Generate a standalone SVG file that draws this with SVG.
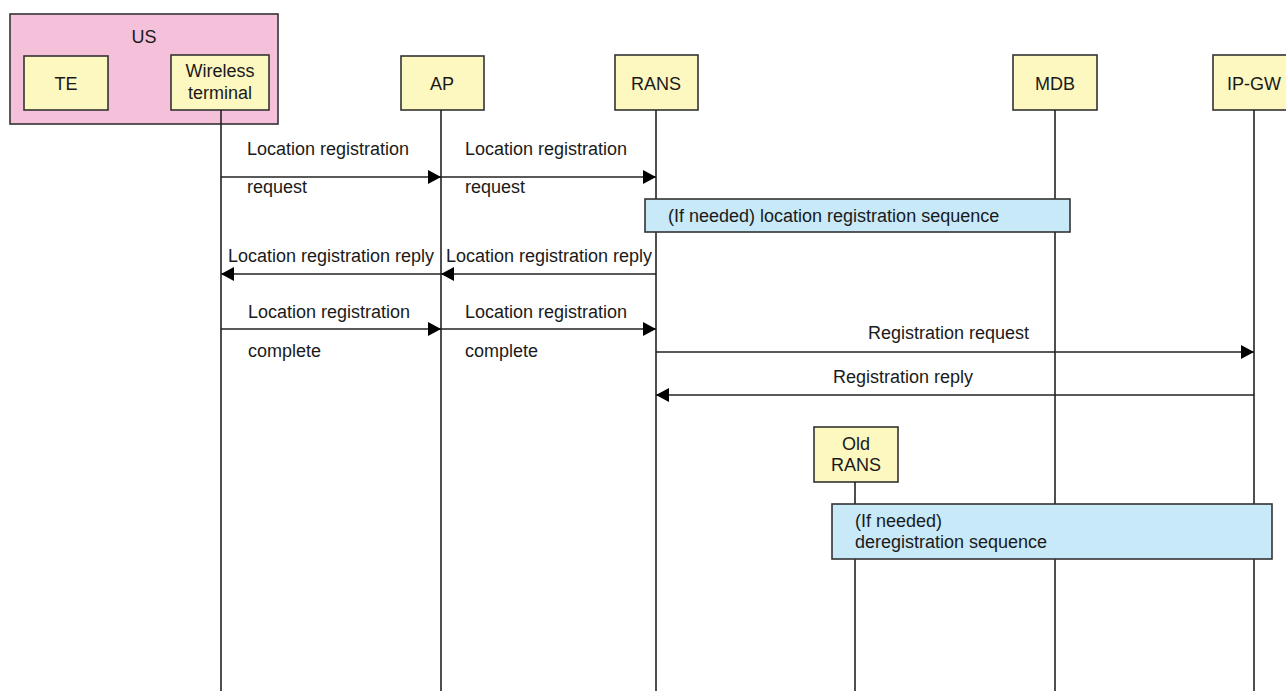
<svg xmlns="http://www.w3.org/2000/svg" width="1286" height="691" viewBox="0 0 1286 691">
<style>
text{font-family:"Liberation Sans",Arial,sans-serif;font-size:18px;fill:#1a1a1a}
.c{text-anchor:middle}
.box{fill:#fdf7c0;stroke:#333;stroke-width:1.6}
.grp{fill:#f5c1da;stroke:#333;stroke-width:1.6}
.seq{fill:#c8e9f8;stroke:#333;stroke-width:1.6}
.life{stroke:#222;stroke-width:1.6;fill:none}
.msg{stroke:#222;stroke-width:1.4;fill:none;marker-end:url(#ah)}
</style>
<defs>
<marker id="ah" markerUnits="userSpaceOnUse" markerWidth="14" markerHeight="16" refX="13" refY="7" orient="auto">
<path d="M0,0 L13,7 L0,14 Z" fill="#000"/>
</marker>
</defs>
<rect width="1286" height="691" fill="#fff"/>
<g id="US">
<rect class="grp" x="10" y="14" width="268" height="110"/>
<text class="c" x="144" y="43">US</text>
</g>
<g id="TE">
<rect class="box" x="24" y="56" width="84" height="54"/>
<text class="c" x="66" y="90">TE</text>
</g>
<g id="WT">
<rect class="box" x="171" y="55" width="98" height="55"/>
<text class="c" x="220" y="77">Wireless</text>
<text class="c" x="220" y="99">terminal</text>
</g>
<g id="AP">
<rect class="box" x="401" y="56" width="83" height="54"/>
<text class="c" x="442" y="90">AP</text>
</g>
<g id="RANS">
<rect class="box" x="615" y="55" width="83" height="55"/>
<text class="c" x="656" y="90">RANS</text>
</g>
<g id="MDB">
<rect class="box" x="1013" y="55" width="84" height="55"/>
<text class="c" x="1055" y="90">MDB</text>
</g>
<g id="IPGW">
<rect class="box" x="1213" y="55" width="84" height="55"/>
<text class="c" x="1254" y="90">IP-GW</text>
</g>
<g id="OldRANS">
<rect class="box" x="814" y="427" width="84" height="55"/>
<text class="c" x="856" y="450">Old</text>
<text class="c" x="856" y="471">RANS</text>
</g>
<g id="lifelines">
<line class="life" x1="221" y1="110" x2="221" y2="691"/>
<line class="life" x1="441" y1="110" x2="441" y2="691"/>
<line class="life" x1="656" y1="110" x2="656" y2="691"/>
<line class="life" x1="1055" y1="110" x2="1055" y2="691"/>
<line class="life" x1="1254" y1="110" x2="1254" y2="691"/>
<line class="life" x1="855" y1="482" x2="855" y2="691"/>
</g>
<g id="seq1">
<rect class="seq" x="645" y="199" width="425" height="33"/>
<text x="668" y="222">(If needed) location registration sequence</text>
</g>
<g id="seq2">
<rect class="seq" x="832" y="504" width="440" height="55"/>
<text x="855" y="527">(If needed)</text>
<text x="855" y="548">deregistration sequence</text>
</g>
<g id="connectors">
<line class="msg" x1="221" y1="177" x2="441" y2="177"/>
<line class="msg" x1="441" y1="177" x2="656" y2="177"/>
<line class="msg" x1="656" y1="274" x2="441" y2="274"/>
<line class="msg" x1="441" y1="274" x2="221" y2="274"/>
<line class="msg" x1="221" y1="329" x2="441" y2="329"/>
<line class="msg" x1="441" y1="329" x2="656" y2="329"/>
<line class="msg" x1="656" y1="352" x2="1254" y2="352"/>
<line class="msg" x1="1254" y1="395" x2="656" y2="395"/>
</g>
<g id="labels">
<text x="247" y="155">Location registration</text>
<text x="247" y="193">request</text>
<text x="465" y="155">Location registration</text>
<text x="465" y="193">request</text>
<text x="228" y="262">Location registration reply</text>
<text x="446" y="262">Location registration reply</text>
<text x="248" y="318">Location registration</text>
<text x="248" y="357">complete</text>
<text x="465" y="318">Location registration</text>
<text x="465" y="357">complete</text>
<text x="868" y="339">Registration request</text>
<text x="833" y="383">Registration reply</text>
</g>
</svg>
